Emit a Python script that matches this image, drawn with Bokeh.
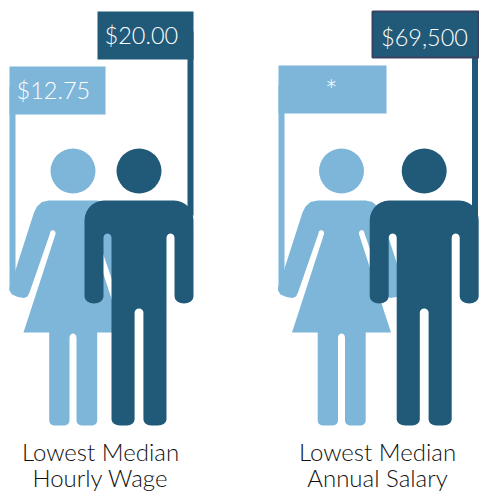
import numpy as np
from bokeh.plotting import figure
from bokeh.models import Range1d
from bokeh.core.properties import value
from bokeh.embed import file_html
from bokeh.resources import INLINE

LIGHT = "#7db6d9"
DARK = "#215a78"
BORDER = "#3a4163"
FONT = "'Lato Light', Lato"

wage_labels = ["$12.75", "$20.00"]
salary_labels = ["*", "$69,500"]
captions = [["Lowest Median", "Hourly Wage"], ["Lowest Median", "Annual Salary"]]

woman_cx = [72.5, 341.0]
man_cx = [138.5, 423.7]
light_flag_left = [9, 278]
dark_flag_left = [97, 371]
dark_flag_right = [193, 479]
light_flag_width = [96, 108]
flag_tops = [(66, 11), (65, 10)]
caption_cx = [100, 377]


def arc(cx, cy, rx, ry, a0, a1, n=10):
    t = np.radians(np.linspace(a0, a1, n))
    return list(zip(cx + rx * np.cos(t), cy + ry * np.sin(t)))


def woman_half():
    pts = [(0, 200), (-24, 200), (-31, 201.5), (-36, 206), (-39, 212),
           (-61.5, 282), (-63.5, 287), (-63.5, 290), (-61, 294), (-55, 296.5),
           (-49, 297.5), (-45.5, 296), (-43.5, 292), (-23, 233)]
    pts += arc(-20.2, 233, 2.9, 3.5, 180, 360, 6)
    pts += [(-49.5, 332), (0, 332)]
    return pts


def woman_outline(cx):
    half = woman_half()
    xs = [cx + x for x, _ in half] + [cx - x for x, _ in reversed(half)]
    ys = [y for _, y in half] + [y for _, y in reversed(half)]
    return xs, ys


def woman_legs(cx):
    pts = [(-23.8, 331), (-23.8, 420)]
    pts += arc(-19, 420, 4.8, 5, 180, 90, 5)
    pts += [(-8.5, 425)]
    pts += arc(-8.5, 420, 5, 5, 90, 0, 5)
    pts += [(-3.5, 337)]
    pts += arc(0, 337, 3.5, 4, 180, 360, 7)
    pts += [(3.5, 420)]
    pts += arc(8.5, 420, 5, 5, 180, 90, 5)
    pts += [(19.4, 425)]
    pts += arc(19.4, 420, 4.8, 5, 90, 0, 5)
    pts += [(24.2, 331)]
    return [cx + x for x, _ in pts], [y for _, y in pts]


def man_outline(cx):
    right = []
    right += [(0, 200), (35, 200)]
    right += arc(35, 220, 19.5, 20, 270, 360, 8)
    right += [(54.5, 296)]
    right += arc(45, 296, 9.5, 7, 0, 180, 9)
    right += [(35.5, 237)]
    right += arc(31.5, 237, 4, 4, 360, 180, 7)
    right += [(27.5, 419)]
    right += arc(19, 419, 8.5, 6, 0, 90, 5)
    right += [(12, 425)]
    right += arc(12, 419, 7.6, 6, 90, 180, 5)
    right += [(4.4, 312)]
    right += arc(0, 312, 4.4, 4, 0, -90, 5)
    xs = [cx + x for x, _ in right] + [cx - x for x, _ in reversed(right)]
    ys = [y for _, y in right] + [y for _, y in reversed(right)]
    return xs, ys


p = figure(width=479, height=491, output_backend="svg", toolbar_location=None,
           x_range=Range1d(0, 479), y_range=Range1d(491, 0),
           min_border=0, background_fill_color="white", border_fill_color="white",
           outline_line_color=None, styles={"position": "absolute", "left": "0", "top": "0"})
p.axis.visible = False
p.grid.visible = False

for i in range(2):
    lt, dt = flag_tops[i]
    lx = light_flag_left[i]
    dl, dr = dark_flag_left[i], dark_flag_right[i]
    labels = wage_labels if i == 0 else salary_labels

    # poles
    p.quad(left=lx, right=lx + 6, top=lt + 20, bottom=290, fill_color=LIGHT, line_color=None)
    pole_r = dr if i == 0 else dr - 1.5
    p.quad(left=pole_r - 6, right=pole_r, top=dt + 20, bottom=215, fill_color=DARK, line_color=None)

    # flags
    p.quad(left=lx, right=lx + light_flag_width[i], top=lt, bottom=lt + 48,
           fill_color=LIGHT, line_color=None)
    if i == 0:
        p.quad(left=dl, right=dr, top=dt, bottom=dt + 48, fill_color=DARK, line_color=None)
    else:
        p.quad(left=dl + 1, right=dr - 1, top=dt + 1, bottom=dt + 47, fill_color=DARK,
               line_color=BORDER, line_width=2)

    # woman
    cx = woman_cx[i]
    p.circle(x=cx, y=170.5, radius=22.5, fill_color=LIGHT, line_color=None)
    xs, ys = woman_outline(cx)
    p.patch(xs, ys, fill_color=LIGHT, line_color=None)
    xs, ys = woman_legs(cx)
    p.patch(xs, ys, fill_color=LIGHT, line_color=None)

    # man
    cx = man_cx[i]
    p.circle(x=cx, y=170.5, radius=22.5, fill_color=DARK, line_color=None)
    xs, ys = man_outline(cx)
    p.patch(xs, ys, fill_color=DARK, line_color=None)

    # flag labels
    if i == 0:
        p.text(x=[16], y=[89], text=[labels[0]], text_color="white", text_font=value(FONT),
               text_font_size="23.5px", text_baseline="middle", text_align="left")
        p.text(x=[104], y=[34], text=[labels[1]], text_color="white", text_font=value(FONT),
               text_font_size="23.5px", text_baseline="middle", text_align="left")
    else:
        p.text(x=[331], y=[88], text=[labels[0]], text_color="white", text_font=value(FONT),
               text_font_size="30px", text_baseline="middle", text_align="center")
        p.text(x=[424], y=[36], text=[labels[1]], text_color="white", text_font=value(FONT),
               text_font_size="23.5px", text_baseline="middle", text_align="center")

    # captions
    for line, mid in zip(captions[i], (451, 477)):
        p.text(x=[caption_cx[i]], y=[mid], text=[line], text_color="#111111",
               text_font=value(FONT), text_font_size="24px",
               text_baseline="middle", text_align="center")

open("out.html", "w").write(file_html(p, INLINE))
